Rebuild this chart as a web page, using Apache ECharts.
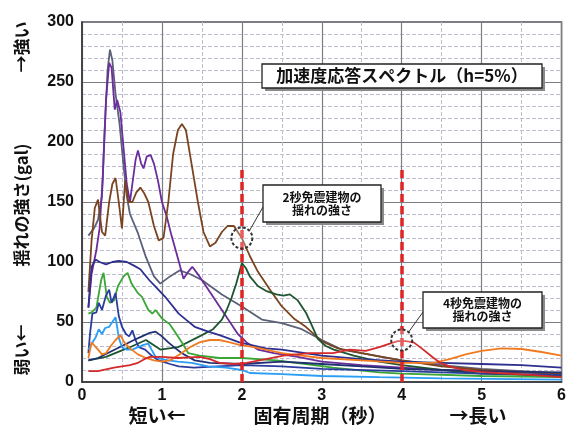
<!DOCTYPE html>
<html><head><meta charset="utf-8">
<script src="https://cdn.jsdelivr.net/npm/echarts@6/dist/echarts.min.js"></script>
<style>html,body{margin:0;padding:0;background:#fff}#c{width:569px;height:427px}</style>
</head><body><div id="c"></div>
<script>
// ---- data (period in seconds, response in gal) ----
const xTicks = [0,1,2,3,4,5,6];
const yTicks = [0,50,100,150,200,250,300];

const slateX = [0.08,0.15,0.2,0.25,0.28,0.32,0.35,0.38,0.42,0.47,0.52,0.56,0.6,0.7,0.8,0.9,0.98,1.1,1.22,1.35,1.5,1.75,2.0,2.25,2.5,2.75,3.0,3.25,3.5,3.75,4.0,4.5,5.0,5.5,6.0];
const slateY = [122,128,135,155,205,260,277,268,240,215,180,155,140,124,104,88,82,88,93,90,85,73,63,52,49,44,35,27,24,21,18,14,11,9,7];

const purpleX = [0.08,0.12,0.18,0.22,0.26,0.3,0.34,0.37,0.41,0.44,0.48,0.52,0.56,0.6,0.63,0.67,0.7,0.74,0.77,0.81,0.86,0.9,0.95,1.0,1.06,1.12,1.18,1.27,1.33,1.38,1.47,1.55,1.64,1.75,1.85,1.95,2.06,2.2,2.4,2.7,3.0,3.5,4.0,4.5,5.0,5.5,6.0];
const purpleY = [62,90,110,128,170,235,266,262,227,235,225,195,165,150,165,185,193,182,178,188,189,182,168,150,138,122,108,86,92,96,88,80,71,60,50,40,33,27,24,21,17,14,12,10,9,8,7];

const brownX = [0.08,0.12,0.16,0.2,0.25,0.29,0.34,0.38,0.42,0.46,0.5,0.54,0.58,0.63,0.68,0.73,0.78,0.83,0.9,0.96,1.02,1.08,1.14,1.2,1.25,1.3,1.37,1.45,1.52,1.6,1.67,1.75,1.82,1.9,1.96,2.0,2.1,2.2,2.35,2.5,2.65,2.8,3.0,3.2,3.5,3.75,4.0,4.5,5.0,5.5,6.0];
const brownY = [75,118,145,152,125,122,150,165,170,150,128,168,150,150,158,162,157,150,130,118,120,150,190,210,215,210,182,150,125,113,116,125,130,130,124,120,105,92,77,63,53,46,34,28,24,21,18,13,10,8,7];

const dgreenX = [0.08,0.3,0.6,0.8,0.98,1.2,1.47,1.64,1.75,1.81,1.87,1.93,2.0,2.05,2.1,2.2,2.3,2.43,2.52,2.6,2.7,2.8,2.87,2.95,3.05,3.15,3.4,3.72,4.0,4.5,5.0,5.5,6.0];
const dgreenY = [18,21,29,35,27,29,38,44,52,60,70,82,99,95,88,80,76,73,72,73,68,58,48,36,30,27,22,17,14,10,7,6,5];

const navyX = [0.08,0.12,0.17,0.22,0.3,0.38,0.46,0.56,0.65,0.73,0.84,0.97,1.04,1.21,1.3,1.41,1.58,1.72,1.97,2.3,2.5,3.0,3.5,4.0,4.5,5.0,5.5,6.0];
const navyY = [62,96,102,100,98,100,101,100,97,94,85,76,71,57,52,46,42,39,33,28,27,22,19,17,16,15,14,12];

const greenX = [0.08,0.12,0.18,0.24,0.27,0.31,0.35,0.4,0.45,0.52,0.57,0.62,0.7,0.75,0.83,0.88,0.92,1.0,1.1,1.17,1.25,1.33,1.47,1.72,2.0,2.43,2.8,3.14,3.72,4.0,5.0,6.0];
const greenY = [57,58,62,85,91,71,66,68,80,88,91,82,74,71,60,57,60,53,48,41,33,24,22,20,20,18,15,12,8,7,5,4];

const blueX = [0.08,0.1,0.13,0.18,0.21,0.25,0.3,0.34,0.37,0.42,0.46,0.5,0.55,0.59,0.63,0.67,0.71,0.79,0.87,0.96,1.1,1.21,1.4,1.7,2.0,2.5,3.0,4.0,5.0,6.0];
const blueY = [24,40,57,58,66,60,72,77,66,74,55,46,40,38,43,35,29,27,22,18,15,13,12,13,14,13,11,9,7,6];

const indigoX = [0.08,0.2,0.35,0.5,0.65,0.75,0.85,0.92,1.0,1.08,1.17,1.25,1.41,1.6,2.0,2.5,3.0,3.5,4.0,5.0,6.0];
const indigoY = [18,20,25,30,35,38,41,42,38,33,28,24,18,16,15,17,15,13,11,9,8];

const skyX = [0.08,0.13,0.17,0.21,0.25,0.29,0.34,0.38,0.42,0.46,0.5,0.56,0.63,0.7,0.77,0.83,0.87,0.92,1.0,1.08,1.2,1.37,1.58,1.8,2.0,2.1,2.5,3.0,3.72,4.5,6.0];
const skyY = [27,33,37,44,40,45,46,50,54,37,29,27,27,29,31,32,27,21,19,18,17,16,13,12,10,7.5,6.5,5,4,3,2];

const orangeX = [0.08,0.12,0.16,0.2,0.25,0.3,0.36,0.42,0.48,0.53,0.6,0.7,0.8,0.9,1.0,1.1,1.22,1.35,1.47,1.6,1.72,1.85,1.97,2.15,2.3,2.5,2.75,3.0,3.5,4.0,4.4,4.6,4.8,5.0,5.25,5.5,5.75,6.0];
const orangeY = [20,33,30,27,23,24,30,35,39,33,28,23,20,18,17,18,23,29,33,35,35,33,31,29,27,24,22,20,18,16,16,19,23,26,28,27.5,25,22];

const redX = [0.08,0.2,0.4,0.6,0.7,0.78,0.85,1.0,1.2,1.47,1.6,1.72,1.9,2.06,2.3,2.52,2.85,3.14,3.35,3.55,3.72,3.85,3.95,4.05,4.15,4.27,4.38,4.48,4.6,4.77,5.0,5.2,5.6,6.0];
const redY = [9,9,12,14,16,19,21,21,20,21,19,16,15,16,19,22,24,24,27,26,29,32,34,34,33,27,21,16,13,10,8.5,7.5,6,4];

const markPeriods = [2,4];
const markTop = 180;
const circleX = [2,4];
const circleY = [120,35];

// ---- build ----
const zip = (xs, ys) => xs.map((x, i) => [x, ys[i]]);
const defs = [
  ['slate', slateX, slateY, '#5a6078'],
  ['purple', purpleX, purpleY, '#6b2d9b'],
  ['brown', brownX, brownY, '#7a4420'],
  ['dgreen', dgreenX, dgreenY, '#1d5530'],
  ['navy', navyX, navyY, '#2e2f8f'],
  ['green', greenX, greenY, '#3aa635'],
  ['blue', blueX, blueY, '#2a3c9e'],
  ['indigo', indigoX, indigoY, '#1f2f70'],
  ['sky', skyX, skyY, '#2a9df4'],
  ['orange', orangeX, orangeY, '#f07a20'],
  ['red', redX, redY, '#d42a2a']
];
const series = defs.map(d => ({
  name: d[0], type: 'line', data: zip(d[1], d[2]), showSymbol: false, smooth: false,
  lineStyle: { color: d[3], width: 1.8 }, itemStyle: { color: d[3] }, z: 3
}));
series.push({
  type: 'line', data: [], z: 5,
  markLine: {
    silent: true, symbol: ['none', 'none'], label: { show: false },
    lineStyle: { color: '#e02424', width: 3.5, type: [8, 4] },
    data: markPeriods.map(p => [{ coord: [p, 0] }, { coord: [p, markTop] }])
  }
});

const chart = echarts.init(document.getElementById('c'), null, { renderer: 'canvas' });
const cjk = '"Noto Sans CJK JP", sans-serif';
const lab = { color: '#111', fontSize: 16, fontWeight: 'bold', fontFamily: '"Liberation Sans", Arial, sans-serif' };
chart.setOption({
  animation: false,
  backgroundColor: '#fff',
  grid: { left: 82, right: 7, top: 22, bottom: 45, show: true, borderColor: '#555', borderWidth: 1.5 },
  xAxis: {
    type: 'value', min: 0, max: 6, interval: 1,
    axisLine: { show: true, lineStyle: { color: '#333', width: 1.5 } },
    axisTick: { show: false },
    axisLabel: Object.assign({ margin: 6, formatter: v => xTicks.includes(v) ? String(v) : '' }, lab),
    splitLine: { show: true, lineStyle: { color: '#7d7d86', width: 1.2 } },
    minorTick: { show: false, splitNumber: 2 },
    minorSplitLine: { show: true, lineStyle: { color: '#bdbdcf', width: 1, type: [4, 2] } }
  },
  yAxis: {
    type: 'value', min: 0, max: 300, interval: 50,
    axisLine: { show: true, lineStyle: { color: '#333', width: 1.5 } },
    axisTick: { show: false },
    axisLabel: Object.assign({ margin: 8, formatter: v => yTicks.includes(v) ? String(v) : '' }, lab),
    splitLine: { show: true, lineStyle: { color: '#7d7d86', width: 1.2 } },
    minorTick: { show: false, splitNumber: 5 },
    minorSplitLine: { show: true, lineStyle: { color: '#bdbdcf', width: 1, type: [4, 2] } }
  },
  series: series
});

function box(x, y, w, h, lines, fs) {
  return [
    { type: 'rect', shape: { x: x + 3, y: y + 3, width: w, height: h }, style: { fill: '#8a8a8a' }, z: 20 },
    { type: 'rect', shape: { x: x, y: y, width: w, height: h }, style: { fill: '#fff', stroke: '#222', lineWidth: 1.3 }, z: 21 },
    { type: 'text', x: x + w / 2, y: y + h / 2, z: 22,
      style: { text: lines, fontSize: fs, fontFamily: cjk, fontWeight: 'bold', fill: '#111', align: 'center', verticalAlign: 'middle', lineHeight: fs + 1 } }
  ];
}
const c1 = chart.convertToPixel({ gridIndex: 0 }, [circleX[0], circleY[0]]);
const c2 = chart.convertToPixel({ gridIndex: 0 }, [circleX[1], circleY[1]]);
const circ = (c) => ({ type: 'circle', shape: { cx: c[0], cy: c[1], r: 10.5 }, z: 15,
  style: { fill: 'rgba(255,255,255,0.25)', stroke: '#333', lineWidth: 2, lineDash: [3, 2] } });
const rotText = (t, x, y, fs) => ({ type: 'text', x: x, y: y, rotation: Math.PI / 2, z: 10,
  style: { text: t, fontSize: fs, fontFamily: cjk, fontWeight: 'bold', fill: '#111', align: 'center', verticalAlign: 'middle' } });
const hText = (t, x, y, fs) => ({ type: 'text', x: x, y: y, z: 10,
  style: { text: t, fontSize: fs, fontFamily: cjk, fontWeight: 'bold', fill: '#111', align: 'center', verticalAlign: 'middle' } });

chart.setOption({
  graphic: [].concat(
    box(262, 64, 280, 24, '加速度応答スペクトル（h=5%）', 17),
    box(263, 185, 118, 37, '2秒免震建物の\n揺れの強さ', 12),
    box(423, 292, 119, 36, '4秒免震建物の\n揺れの強さ', 12),
    [
      circ(c1), circ(c2),
      { type: 'line', shape: { x1: c1[0] + 8, y1: c1[1] - 8, x2: 263, y2: 207 }, style: { stroke: '#333', lineWidth: 1 }, z: 15 },
      { type: 'line', shape: { x1: c2[0] + 7, y1: c2[1] - 8, x2: 423, y2: 312 }, style: { stroke: '#333', lineWidth: 1 }, z: 15 },
      rotText('→強い', 22, 47, 17),
      rotText('揺れの強さ(gal)', 22, 205, 17),
      rotText('弱い←', 22, 350, 17),
      hText('短い←', 157, 416, 19),
      hText('固有周期（秒）', 320, 416, 19),
      hText('→長い', 478, 416, 19)
    ]
  )
});
</script></body></html>
